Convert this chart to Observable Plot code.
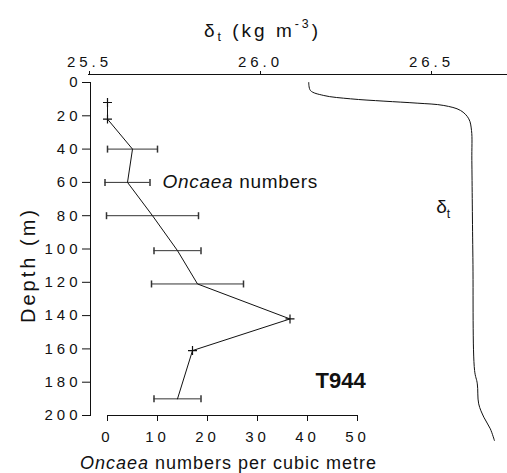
<!DOCTYPE html>
<html><head><meta charset="utf-8">
<script src="https://cdn.jsdelivr.net/npm/d3@7"></script>
<script src="https://cdn.jsdelivr.net/npm/@observablehq/plot@0.6"></script>
<style>
body{margin:0;background:#fff;}
#chart{position:relative;width:507px;height:473px;background:#fff;}
#chart svg{position:absolute;left:0;top:0;}
g[aria-label$="tick label"] text{letter-spacing:4px;}
</style></head><body><div id="chart"></div>
<script>
// Tick labels
const depthTicks = [0, 20, 40, 60, 80, 100, 120, 140, 160, 180, 200];
const countTicks = [0, 10, 20, 30, 40, 50];
const sigmaTicks = [25.5, 26.0, 26.5];

// Oncaea numbers per cubic metre (mean and half-range) by depth
const sampleDepth = [12, 22, 40, 60, 80, 101, 121, 142, 161, 190];
const oncaeaMean  = [0, 0, 5, 4, 9, 14, 18, 36.5, 17, 14];
const oncaeaErr   = [0, 0, 5, 4.5, 9.2, 4.7, 9.2, 0, 0, 4.7];

// Density (sigma-t) profile
const profileDepth = [0, 4.8, 7.8, 9.8, 11.2, 12.4, 13.8, 16.8, 21.8, 28.8, 46.8, 105, 173, 181, 193, 201, 208, 215];
const profileSigma = [26.141, 26.146, 26.185, 26.263, 26.361, 26.458, 26.536, 26.585, 26.609, 26.617, 26.618, 26.621, 26.626, 26.634, 26.638, 26.653, 26.672, 26.684];

const font = "'Liberation Sans', Arial, Helvetica, sans-serif";
const style = {fontFamily: font, fontSize: "15px", background: "transparent", color: "#111", overflow: "visible"};

const samples = sampleDepth.map((d, i) => ({depth: d, mean: oncaeaMean[i], err: oncaeaErr[i]}));
const bars = samples.filter(d => d.err > 0);
const plusMarks = samples.filter(d => d.err === 0);
const profile = profileDepth.map((d, i) => ({depth: d, sigma: profileSigma[i]}));

const cap = {draw(ctx, size) { const r = Math.sqrt(size / Math.PI); ctx.moveTo(0, -r); ctx.lineTo(0, r); }};

const p1 = Plot.plot({
  width: 507, height: 473, marginTop: 82, marginBottom: 58, marginLeft: 90, marginRight: 0,
  style,
  x: {domain: [0, 50], range: [107, 357]},
  y: {domain: [0, 200], range: [82, 415]},
  marks: [
    Plot.frame({anchor: "left", stroke: "#111"}),
    Plot.ruleY([200], {x1: countTicks[0], x2: countTicks[countTicks.length - 1], stroke: "#111"}),
    Plot.axisY({ticks: depthTicks, tickSize: 8, tickPadding: 1, label: null, stroke: "#111"}),
    Plot.axisX({anchor: "bottom", ticks: countTicks, tickSize: 6, tickPadding: 10, label: null, stroke: "#111"}),
    Plot.ruleY(bars, {y: "depth", x1: d => d.mean - d.err, x2: d => d.mean + d.err, stroke: "#333"}),
    Plot.dot(bars, {y: "depth", x: d => d.mean - d.err, symbol: cap, r: 3.5, stroke: "#333"}),
    Plot.dot(bars, {y: "depth", x: d => d.mean + d.err, symbol: cap, r: 3.5, stroke: "#333"}),
    Plot.line(samples, {x: "mean", y: "depth", stroke: "#111", strokeWidth: 1}),
    Plot.dot(plusMarks, {x: "mean", y: "depth", symbol: "plus", r: 3, stroke: "#111", strokeWidth: 1.2}),
    Plot.text(["*Oncaea* numbers"], {x: 11, y: 60, textAnchor: "start", fontSize: 19}),
    Plot.text(["T944"], {x: 41.6, y: 179, textAnchor: "start", fontSize: 22, fontWeight: "bold"}),
    Plot.text(["Depth (m)"], {frameAnchor: "left", textAnchor: "middle", lineAnchor: "middle", rotate: -90, dx: -62, dy: 16, fontSize: 20}),
    Plot.text(["*Oncaea* numbers per cubic metre"], {x: 25, frameAnchor: "bottom", lineAnchor: "middle", dy: 48, dx: -4, fontSize: 18})
  ]
});

const p2 = Plot.plot({
  width: 507, height: 473, marginTop: 74, marginBottom: 58, marginLeft: 88, marginRight: 0,
  style,
  x: {domain: [25.5, 26.5], range: [89, 431]},
  y: {domain: [0, 200], range: [82, 415], axis: null},
  marks: [
    Plot.frame({anchor: "top", stroke: "#111"}),
    Plot.axisX({anchor: "top", ticks: sigmaTicks, tickFormat: d3.format(".1f"), tickSize: 4, tickPadding: 4, label: null, stroke: "#111"}),
    Plot.line(profile, {x: "sigma", y: "depth", curve: "catmull-rom", stroke: "#111", strokeWidth: 1}),
    Plot.text(["δ_{t}"], {x: 26.514, y: 75, textAnchor: "start", fontSize: 19}),
    Plot.text(["δ_{t} (kg m^{-3})"], {x: 26.0, frameAnchor: "top", lineAnchor: "middle", dy: -44, dx: 2, fontSize: 19})
  ]
});

const chart = document.getElementById("chart");
chart.appendChild(p1);
chart.appendChild(p2);

const spacing = {"Depth (m)": "3px", "*Oncaea* numbers per cubic metre": "1px", "*Oncaea* numbers": "0.7px", "δ_{t} (kg m^{-3})": "3px"};

function rich(svg) {
  d3.select(svg).selectAll("text").each(function () {
    const el = this;
    const s = el.textContent;
    if (spacing[s]) el.style.letterSpacing = spacing[s];
    if (!/[*_^]/.test(s)) return;
    const fs = parseFloat(getComputedStyle(el).fontSize) || 15;
    el.textContent = "";
    const re = /\*(.+?)\*|_\{(.+?)\}|\^\{(.+?)\}|([^*_^]+)/g;
    let m, shift = 0;
    while ((m = re.exec(s))) {
      const t = d3.select(el).append("tspan");
      let target = 0;
      if (m[1] !== undefined) t.text(m[1]).attr("font-style", "italic");
      else if (m[2] !== undefined) { t.text(m[2]).attr("font-size", fs * 0.65); target = fs * 0.22; }
      else if (m[3] !== undefined) { t.text(m[3]).attr("font-size", fs * 0.65); target = -fs * 0.45; }
      else t.text(m[4]);
      if (target !== shift) { t.attr("dy", target - shift); shift = target; }
    }
  });
}
rich(p1);
rich(p2);
</script></body></html>
